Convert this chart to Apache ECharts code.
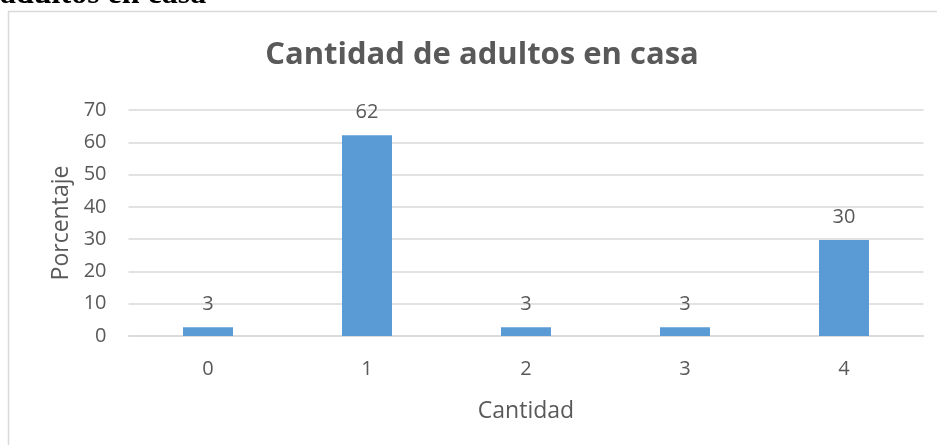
<!DOCTYPE html>
<html>
<head>
<meta charset="utf-8">
<script src="https://cdn.jsdelivr.net/npm/echarts@6/dist/echarts.min.js"></script>
<style>
  html, body { margin: 0; padding: 0; background: #fff; }
  #main { width: 937px; height: 445px; }
</style>
</head>
<body>
<div id="main"></div>
<script>
const aCategories = ['0', '1', '2', '3', '4'];
const aValues = [2.7, 62.2, 2.7, 2.7, 29.7];
const aLabels = ['3', '62', '3', '3', '30'];

const sFont = '"Open Sans", "Noto Sans", sans-serif';
const sGrey = '#595959';

const myChart = echarts.init(document.getElementById('main'), null, { renderer: 'canvas' });

const option = {
    animation: false,
    backgroundColor: '#fff',
    title: {
        text: 'Cantidad de adultos en casa',
        left: 477,
        textAlign: 'center',
        top: 35,
        textStyle: { color: sGrey, fontFamily: sFont, fontWeight: 'bold', fontSize: 31 },
    },
    graphic: [
        { // recuadro del gráfico
            type: 'rect',
            shape: { x: 8.5, y: 11.5, width: 940, height: 450 },
            style: { fill: 'none', stroke: '#d9d9d9', lineWidth: 1.5 },
            silent: true,
        },
        { // texto cortado arriba
            type: 'text',
            left: 0,
            top: -21,
            style: {
                text: 'adultos en casa',
                fill: '#000',
                font: 'bold 32px "Liberation Serif", "DejaVu Serif", serif',
            },
        },
    ],
    grid: { left: 128.5, right: 13.5, top: 110, bottom: 109 },
    xAxis: {
        type: 'category',
        data: aCategories,
        name: 'Cantidad',
        nameLocation: 'middle',
        nameGap: 64,
        nameTextStyle: { color: sGrey, fontFamily: sFont, fontSize: 23 },
        axisLine: { lineStyle: { color: '#d9d9d9', width: 1.5 } },
        axisTick: { show: false },
        axisLabel: { color: sGrey, fontFamily: sFont, fontSize: 20, margin: 23 },
    },
    yAxis: {
        type: 'value',
        min: 0,
        max: 70,
        interval: 10,
        name: 'Porcentaje',
        nameLocation: 'middle',
        nameGap: 56,
        nameTextStyle: { color: sGrey, fontFamily: sFont, fontSize: 23 },
        axisLine: { show: false },
        axisTick: { show: false },
        axisLabel: { color: sGrey, fontFamily: sFont, fontSize: 20, margin: 22 },
        splitLine: { lineStyle: { color: '#d9d9d9', width: 1.5 } },
    },
    series: [{
        type: 'bar',
        data: aValues,
        barWidth: 50,
        itemStyle: { color: '#5b9bd5' },
        label: {
            show: true,
            position: 'top',
            distance: 13,
            color: sGrey,
            fontFamily: sFont,
            fontSize: 20,
            formatter: p => aLabels[p.dataIndex],
        },
    }],
};
myChart.setOption(option);
</script>
</body>
</html>
